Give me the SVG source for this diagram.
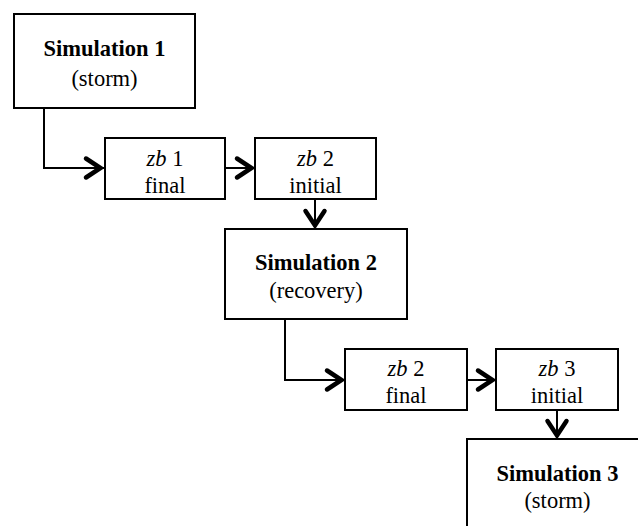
<svg xmlns="http://www.w3.org/2000/svg" width="638" height="526" viewBox="0 0 638 526">
  <style>
    .box { fill: #ffffff; stroke: #000000; stroke-width: 2; }
    .wire { fill: none; stroke: #000000; stroke-width: 2; }
    text { font-family: "Liberation Serif", "Times New Roman", serif; font-size: 22.5px; fill: #000000; text-anchor: middle; }
    .title { font-weight: bold; }
    .var { font-style: italic; }
  </style>
  <defs>
    <!-- open chevron arrowhead used by every connector -->
    <marker id="chevron" markerUnits="userSpaceOnUse" viewBox="-24 -14 30 28" markerWidth="30" markerHeight="28" refX="0" refY="0" orient="auto" overflow="visible">
      <path d="M -18 -9.5 L -3.5 0 L -18 9.5" fill="none" stroke="#000000" stroke-width="4.5" stroke-linejoin="miter" stroke-linecap="round"/>
    </marker>
  </defs>
  <rect width="638" height="526" fill="#ffffff"/>

  <g id="connectors">
    <path class="wire" d="M 44 108 V 168 H 104" marker-end="url(#chevron)"/>
    <path class="wire" d="M 225 168 H 255" marker-end="url(#chevron)"/>
    <path class="wire" d="M 315 199 V 229" marker-end="url(#chevron)"/>
    <path class="wire" d="M 285 319 V 380 H 345" marker-end="url(#chevron)"/>
    <path class="wire" d="M 467 380 H 496" marker-end="url(#chevron)"/>
    <path class="wire" d="M 557 410 V 439" marker-end="url(#chevron)"/>
  </g>

  <g id="sim1">
    <rect class="box" x="14" y="14" width="181" height="94"/>
    <text class="title" x="104.5" y="56">Simulation 1</text>
    <text x="104.5" y="86">(storm)</text>
  </g>

  <g id="zb1-final">
    <rect class="box" x="105" y="138" width="120" height="61"/>
    <text x="165" y="166"><tspan class="var">zb</tspan> 1</text>
    <text x="165" y="193">final</text>
  </g>

  <g id="zb2-initial">
    <rect class="box" x="255" y="138" width="121" height="61"/>
    <text x="315.5" y="166"><tspan class="var">zb</tspan> 2</text>
    <text x="315.5" y="193">initial</text>
  </g>

  <g id="sim2">
    <rect class="box" x="225" y="229" width="182" height="90"/>
    <text class="title" x="316" y="270">Simulation 2</text>
    <text x="316" y="298">(recovery)</text>
  </g>

  <g id="zb2-final">
    <rect class="box" x="345" y="349" width="122" height="61"/>
    <text x="406" y="376"><tspan class="var">zb</tspan> 2</text>
    <text x="406" y="403">final</text>
  </g>

  <g id="zb3-initial">
    <rect class="box" x="496" y="349" width="122" height="61"/>
    <text x="557" y="376"><tspan class="var">zb</tspan> 3</text>
    <text x="557" y="403">initial</text>
  </g>

  <g id="sim3">
    <rect class="box" x="467" y="439" width="181" height="100"/>
    <text class="title" x="557.5" y="481">Simulation 3</text>
    <text x="557.5" y="508">(storm)</text>
  </g>
</svg>
